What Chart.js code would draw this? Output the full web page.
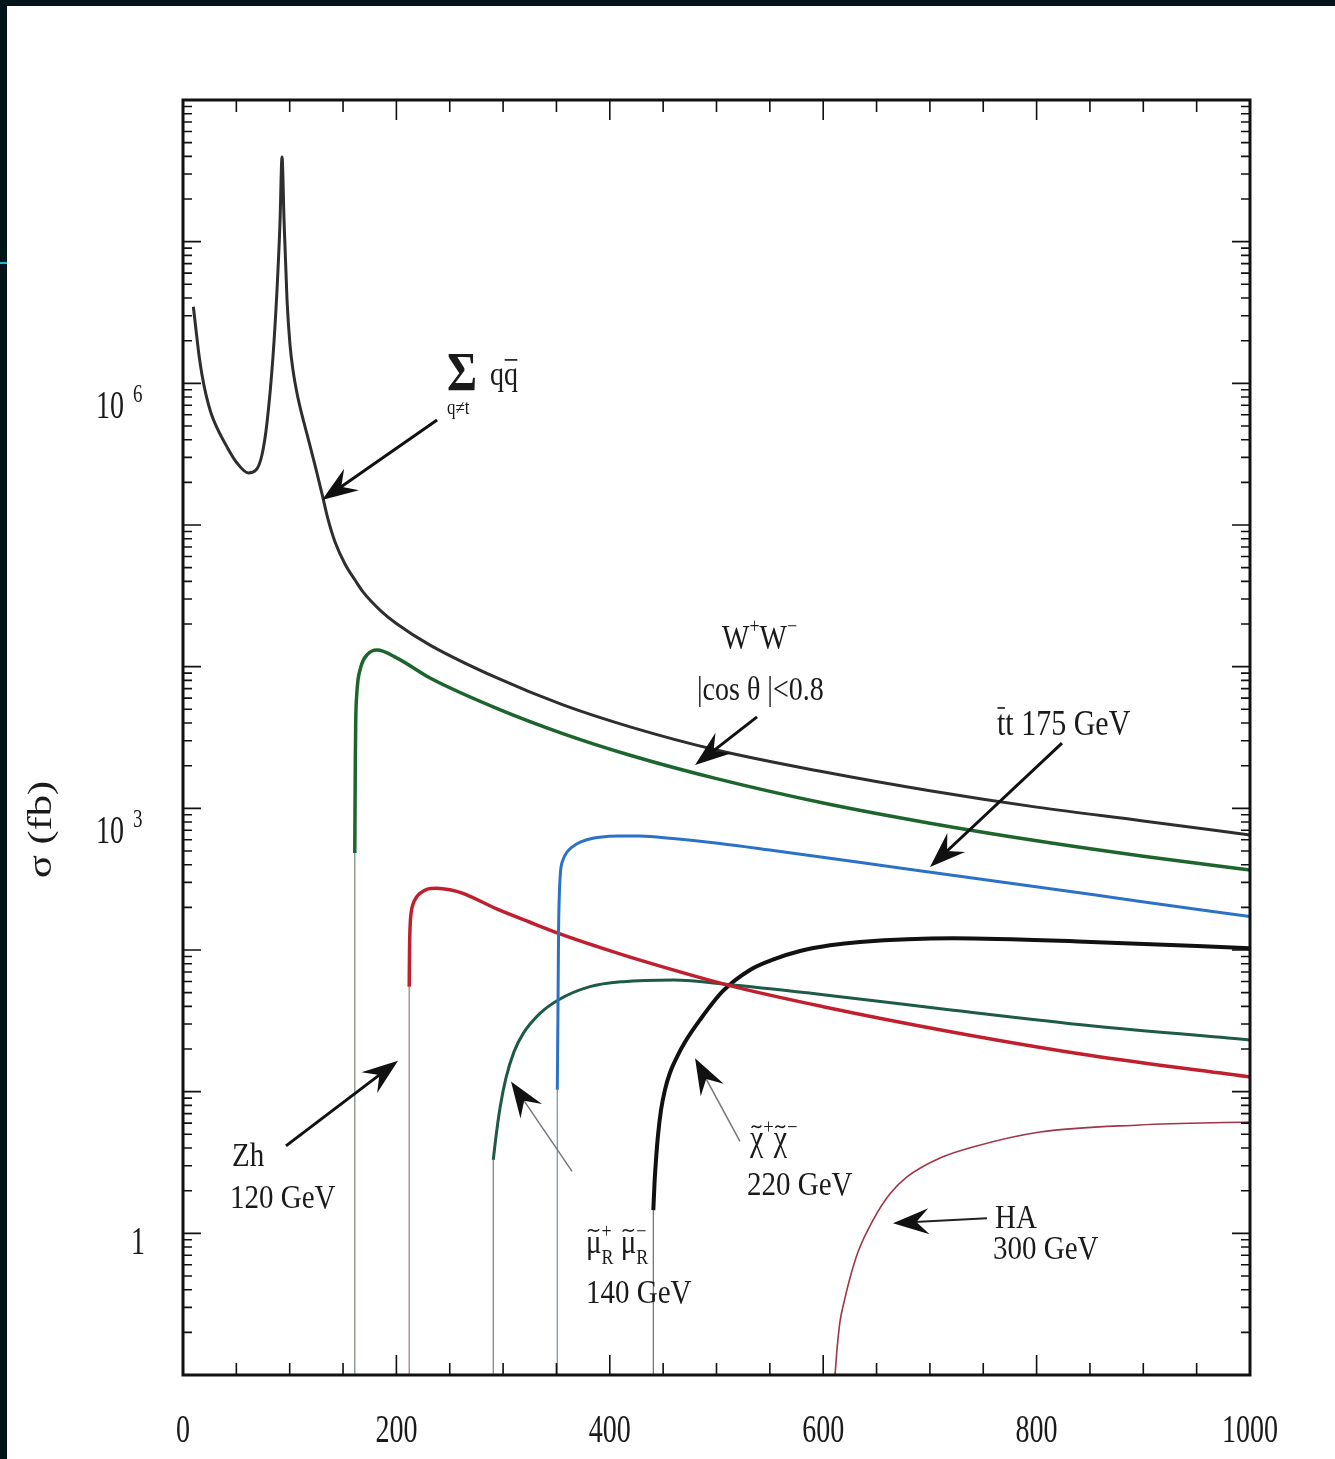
<!DOCTYPE html>
<html>
<head>
<meta charset="utf-8">
<title>e+e- cross sections</title>
<script src="https://cdn.jsdelivr.net/npm/chart.js@4.4.1/dist/chart.umd.min.js"></script>
<style>
  html, body { margin: 0; padding: 0; background: #03141b; overflow: hidden; }
  #panel { position: absolute; left: 7px; top: 6px; width: 1328px; height: 1453px; background: #fff; }
  #mark { position: absolute; left: 0; top: 262px; width: 7px; height: 2px; background: #23b6c9; }
</style>
</head>
<body>
<div id="mark"></div>
<div id="panel"><canvas id="chart" width="1328" height="1453"></canvas></div>
<script>
// sqrt(s) in GeV, sigma in fb
const qqEnergy = [9.7, 12.2, 15.0, 17.8, 21.6, 26.2, 31.9, 41.2, 50.6, 61.2, 68.4, 74.0, 78.7, 84.3, 88.1, 90.9, 92.8, 94.7, 97.5, 100.3, 103.1, 106.8, 111.5, 117.2, 123.7, 130.3, 135.9, 142.5, 151.8, 161.2, 168.7, 184.6, 200.6, 231.5, 294.3, 356.1, 419, 500, 600, 700, 800, 900, 1000];
const qqSigma = [3.47e6, 2.38e6, 1.58e6, 1.15e6, 8.28e5, 6.18e5, 4.84e5, 3.56e5, 2.74e5, 2.33e5, 2.44e5, 3.12e5, 5.25e5, 1.53e6, 4.56e6, 1.36e7, 3.96e7, 1.42e7, 3.87e6, 1.87e6, 1.24e6, 8.55e5, 5.98e5, 4.11e5, 2.65e5, 1.66e5, 1.10e5, 7.59e4, 5.31e4, 4.09e4, 3.37e4, 2.51e4, 2.00e4, 1.42e4, 8.32e3, 5.37e3, 3.76e3, 2.58e3, 1.81e3, 1.33e3, 1.02e3, 815, 649];

// first point of each threshold curve is the top of its thin vertical stem
const wwEnergy = [161.0, 161.5, 161.9, 162.8, 164.0, 165.9, 168.7, 172.4, 177.1, 181.8, 200.6, 231.5, 294, 356, 419, 500, 600, 700, 800, 900, 1000];
const wwSigma = [484, 2.19e3, 4.2e3, 6.31e3, 8.05e3, 9.48e3, 1.10e4, 1.21e4, 1.29e4, 1.31e4, 1.15e4, 8.32e3, 5.08e3, 3.37e3, 2.37e3, 1.62e3, 1.09e3, 785, 590, 459, 367];

const ttEnergy = [350.8, 351.5, 352.0, 352.7, 353.8, 356.1, 360.4, 369.0, 377.7, 390.5, 407.7, 428.3, 459.2, 503.3, 549.8, 678.5, 807.9, 894.1, 1000];
const ttSigma = [10.3, 44.4, 138, 244, 356, 432, 496, 560, 598, 625, 638, 638, 612, 565, 508, 373, 274, 222, 172];

const zhEnergy = [212.0, 212.3, 212.9, 213.9, 215.6, 219.0, 222.1, 228.4, 237.8, 250.2, 262.4, 294, 325.2, 353.3, 387.7, 419, 514.4, 600, 721.8, 851, 1000];
const zhSigma = [55, 100, 150, 185, 211, 237, 251, 268, 273, 266, 251, 195, 157, 130, 106, 89.1, 55.6, 39.8, 26.3, 18.0, 12.7];

const smuEnergy = [290.8, 293.4, 297.1, 302.7, 310.2, 318.9, 334.6, 351.7, 381.4, 412.7, 459.5, 515, 600, 721.8, 851, 1000];
const smuSigma = [3.3, 4.86, 7.67, 12.5, 19.1, 25.8, 35.7, 44.4, 55.1, 59.8, 61.4, 56.6, 48.4, 37.6, 29.2, 23.2];

const chiEnergy = [440.8, 441.9, 443.3, 445.2, 448.0, 451.7, 456.4, 463.0, 470.5, 484.5, 506.1, 531.4, 554.8, 578.3, 606.4, 634.5, 721.7, 851, 1000];
const chiSigma = [1.46, 2.25, 3.30, 4.94, 7.43, 10.3, 13.6, 17.6, 22.4, 32.1, 51.4, 72.3, 86.5, 98.4, 108, 114, 121, 114, 103];

const haEnergy = [611.1, 612.9, 615.7, 619.5, 625.1, 632.6, 646.7, 662.6, 678.5, 709.5, 740.4, 803.2, 896.9, 1000];
const haSigma = [0.1, 0.150, 0.237, 0.327, 0.484, 0.738, 1.24, 1.90, 2.50, 3.40, 4.07, 5.19, 5.82, 6.11];

const xTickValues = [0, 200, 400, 600, 800, 1000];
const xTickLabels = ['0', '200', '400', '600', '800', '1000'];
const yTickValues = [1, 1e3, 1e6];
const yTickLabels = [['1', ''], ['10', '3'], ['10', '6']];
const Y_MIN = 0.1, Y_MAX = 1e8;

const FONT = '"Liberation Serif", "Times New Roman", serif';

const series = [
  { label: 'qq', xs: qqEnergy, ys: qqSigma, color: '#2e2e2e', width: 3, stem: null },
  { label: 'WW', xs: wwEnergy, ys: wwSigma, color: '#1d652c', width: 3.5, stem: '#7f8f84' },
  { label: 'tt', xs: ttEnergy, ys: ttSigma, color: '#2b72c6', width: 3, stem: '#7d95bd' },
  { label: 'Zh', xs: zhEnergy, ys: zhSigma, color: '#c0202e', width: 3.5, stem: '#9c8488' },
  { label: 'smu', xs: smuEnergy, ys: smuSigma, color: '#1d5a48', width: 3, stem: '#7f8a86' },
  { label: 'chi', xs: chiEnergy, ys: chiSigma, color: '#111111', width: 4, stem: '#777777' },
  { label: 'HA', xs: haEnergy, ys: haSigma, color: '#a03548', width: 1.6, stem: null }
];

const notes = [
  { x: 247.4, y: 8.97e5, size: 46, bold: true, runs: [{ t: 'Σ' }] },
  { x: 287.7, y: 9.73e5, size: 28, runs: [{ t: 'q' }, { t: 'q', bar: true }] },
  { x: 247.4, y: 6.08e5, size: 17, runs: [{ t: 'q≠t' }] },
  { x: 505.2, y: 1.355e4, size: 29, runs: [{ t: 'W' }, { t: '+', sup: true }, { t: 'W' }, { t: '−', sup: true }] },
  { x: 481.7, y: 5.82e3, size: 28, runs: [{ t: '|cos θ |<0.8' }] },
  { x: 762.9, y: 3.30e3, size: 30, runs: [{ t: 't', bar: true }, { t: 't 175 GeV' }] },
  { x: 45.9, y: 2.99, size: 29, runs: [{ t: 'Zh' }] },
  { x: 44.0, y: 1.51, size: 29, runs: [{ t: '120 GeV' }] },
  { x: 377.7, y: 0.726, size: 29, runs: [{ t: 'μ', tilde: true }, { t: '+', sup: true, keep: true }, { t: 'R', sub: true }, { t: ' ' }, { t: 'μ', tilde: true }, { t: '−', sup: true, keep: true }, { t: 'R', sub: true }] },
  { x: 377.7, y: 0.322, size: 29, runs: [{ t: '140 GeV' }] },
  { x: 531.4, y: 3.87, size: 30, runs: [{ t: 'χ', tilde: true }, { t: '+', sup: true }, { t: 'χ', tilde: true }, { t: '−', sup: true }] },
  { x: 528.6, y: 1.87, size: 29, runs: [{ t: '220 GeV' }] },
  { x: 761.0, y: 1.09, size: 29, runs: [{ t: 'HA' }] },
  { x: 759.1, y: 0.659, size: 29, runs: [{ t: '300 GeV' }] }
];

const arrows = [
  { from: [238.1, 5.51e5], to: [130.3, 1.50e5], shaft: '#111', w: 3 },
  { from: [538.0, 4.42e3], to: [479.9, 2.02e3], shaft: '#111', w: 3 },
  { from: [823.8, 2.89e3], to: [700.1, 385], shaft: '#111', w: 3 },
  { from: [96.5, 4.14], to: [201.5, 16.5], shaft: '#111', w: 3 },
  { from: [364.6, 2.74], to: [307.4, 11.8], shaft: '#777', w: 1.5 },
  { from: [522, 4.46], to: [479.9, 17.2], shaft: '#777', w: 1.5 },
  { from: [753.5, 1.28], to: [665.4, 1.18], shaft: '#222', w: 2 }
];

function drawRuns(ctx, x, y, runs, size, bold) {
  ctx.save();
  ctx.translate(x, y);
  ctx.scale(1, 1.18);
  ctx.fillStyle = '#1a1a1a';
  ctx.strokeStyle = '#1a1a1a';
  ctx.textBaseline = 'alphabetic';
  ctx.textAlign = 'left';
  let cx = 0;
  runs.forEach(r => {
    const s = (r.sup || r.sub) ? size * 0.62 : size;
    ctx.font = (bold ? 'bold ' : '') + s + 'px ' + FONT;
    const dy = r.sup ? -size * 0.45 : r.sub ? size * 0.32 : 0;
    ctx.fillText(r.t, cx, dy);
    const w = ctx.measureText(r.t).width;
    if (r.tilde) {
      const ty = dy - s * 0.66;
      ctx.lineWidth = 1.4;
      ctx.beginPath();
      ctx.moveTo(cx + w * 0.12, ty + 1);
      ctx.bezierCurveTo(cx + w * 0.35, ty - 4, cx + w * 0.55, ty + 4, cx + w * 0.85, ty - 1);
      ctx.stroke();
    }
    if (r.bar) {
      const by = dy - s * 0.76;
      ctx.lineWidth = 1.4;
      ctx.beginPath();
      ctx.moveTo(cx + w * 0.05, by);
      ctx.lineTo(cx + w * 0.95, by);
      ctx.stroke();
    }
    if (!r.keep) cx += w;
  });
  ctx.restore();
}

function drawArrow(ctx, x0, y0, x1, y1, shaft, w) {
  const ang = Math.atan2(y1 - y0, x1 - x0);
  const L = 36, H = 13;
  ctx.save();
  ctx.strokeStyle = shaft;
  ctx.lineWidth = w;
  ctx.beginPath();
  ctx.moveTo(x0, y0);
  ctx.lineTo(x1 - Math.cos(ang) * L * 0.6, y1 - Math.sin(ang) * L * 0.6);
  ctx.stroke();
  ctx.translate(x1, y1);
  ctx.rotate(ang);
  ctx.fillStyle = '#111';
  ctx.beginPath();
  ctx.moveTo(0, 0);
  ctx.lineTo(-L, -H);
  ctx.lineTo(-L * 0.65, 0);
  ctx.lineTo(-L, H);
  ctx.closePath();
  ctx.fill();
  ctx.restore();
}

const framePlugin = {
  id: 'frame',
  afterDatasetsDraw(chart) {
    const ctx = chart.ctx;
    const a = chart.chartArea;
    const xs = chart.scales.x, ys = chart.scales.y;
    ctx.save();
    ctx.strokeStyle = '#111';
    ctx.lineWidth = 1.6;
    for (let e = -1; e <= 8; e++) {
      for (let m = 1; m <= 9; m++) {
        const v = m * Math.pow(10, e);
        if (v < ys.min || v > ys.max) continue;
        const py = ys.getPixelForValue(v);
        const len = m === 1 ? 18 : 9;
        ctx.beginPath();
        ctx.moveTo(a.left, py); ctx.lineTo(a.left + len, py);
        ctx.moveTo(a.right, py); ctx.lineTo(a.right - len, py);
        ctx.stroke();
      }
    }
    for (let v = xs.min; v <= xs.max; v += 50) {
      const px = xs.getPixelForValue(v);
      const len = v % 200 === 0 ? 20 : 12;
      ctx.beginPath();
      ctx.moveTo(px, a.bottom); ctx.lineTo(px, a.bottom - len);
      ctx.moveTo(px, a.top); ctx.lineTo(px, a.top + len);
      ctx.stroke();
    }
    ctx.lineWidth = 3;
    ctx.strokeRect(a.left, a.top, a.right - a.left, a.bottom - a.top);
    ctx.restore();
  },
  afterDraw(chart) {
    const ctx = chart.ctx;
    const a = chart.chartArea;
    const xs = chart.scales.x, ys = chart.scales.y;
    ctx.save();
    ctx.fillStyle = '#1a1a1a';
    xs.ticks.forEach((t, i) => {
      const px = xs.getPixelForValue(t.value);
      ctx.save();
      ctx.translate(px, a.bottom + 67);
      ctx.scale(1, 1.4);
      ctx.font = '28px ' + FONT;
      ctx.textAlign = 'center';
      ctx.fillText(xTickLabels[i], 0, 0);
      ctx.restore();
    });
    yTickValues.forEach((v, i) => {
      const py = ys.getPixelForValue(v);
      const [base, exp] = yTickLabels[i];
      ctx.save();
      if (exp) {
        ctx.translate(a.left - 59, py + 35);
        ctx.scale(1, 1.4);
        ctx.font = '28px ' + FONT;
        ctx.textAlign = 'right';
        ctx.fillText(base, 0, 0);
        ctx.restore();
        ctx.save();
        ctx.translate(a.left - 50, py + 19);
        ctx.scale(1, 1.3);
        ctx.font = '19px ' + FONT;
        ctx.textAlign = 'left';
        ctx.fillText(exp, 0, 0);
      } else {
        ctx.translate(a.left - 45, py + 21);
        ctx.scale(1, 1.4);
        ctx.font = '28px ' + FONT;
        ctx.textAlign = 'center';
        ctx.fillText(base, 0, 0);
      }
      ctx.restore();
    });
    ctx.save();
    ctx.translate(35, (a.top + a.bottom) / 2 + 92);
    ctx.rotate(-Math.PI / 2);
    ctx.scale(1.25, 1);
    ctx.font = '34px ' + FONT;
    ctx.textAlign = 'center';
    ctx.textBaseline = 'middle';
    ctx.fillText('σ (fb)', 0, 0);
    ctx.restore();
    arrows.forEach(ar => {
      drawArrow(ctx,
        xs.getPixelForValue(ar.from[0]), ys.getPixelForValue(ar.from[1]),
        xs.getPixelForValue(ar.to[0]), ys.getPixelForValue(ar.to[1]),
        ar.shaft, ar.w);
    });
    notes.forEach(n => {
      drawRuns(ctx, xs.getPixelForValue(n.x), ys.getPixelForValue(n.y), n.runs, n.size, n.bold);
    });
    ctx.restore();
  }
};

const datasets = [];
series.forEach(s => {
  datasets.push({
    label: s.label,
    data: s.xs.map((x, i) => ({ x: x, y: s.ys[i] })),
    borderColor: s.color,
    borderWidth: s.width,
    pointRadius: 0,
    fill: false,
    cubicInterpolationMode: 'monotone'
  });
  if (s.stem) {
    // thin vertical line from the bottom of the axis up to the curve start
    datasets.push({
      label: s.label + ' stem',
      data: [{ x: s.xs[0], y: Y_MIN }, { x: s.xs[0], y: s.ys[0] }],
      borderColor: s.stem,
      borderWidth: 1.3,
      pointRadius: 0,
      fill: false
    });
  }
});

new Chart(document.getElementById('chart'), {
  type: 'line',
  data: { datasets: datasets },
  options: {
    responsive: false,
    animation: false,
    layout: { padding: { left: 0, top: 94, right: 85, bottom: 0 } },
    plugins: { legend: { display: false }, tooltip: { enabled: false } },
    scales: {
      x: {
        type: 'linear',
        min: 0,
        max: 1000,
        grid: { display: false },
        border: { display: false },
        ticks: { display: false },
        afterBuildTicks: s => { s.ticks = xTickValues.map(v => ({ value: v })); },
        afterFit: s => { s.height = 84; }
      },
      y: {
        type: 'logarithmic',
        min: Y_MIN,
        max: Y_MAX,
        grid: { display: false },
        border: { display: false },
        ticks: { display: false },
        afterFit: s => { s.width = 176; }
      }
    }
  },
  plugins: [framePlugin]
});
</script>
</body>
</html>
